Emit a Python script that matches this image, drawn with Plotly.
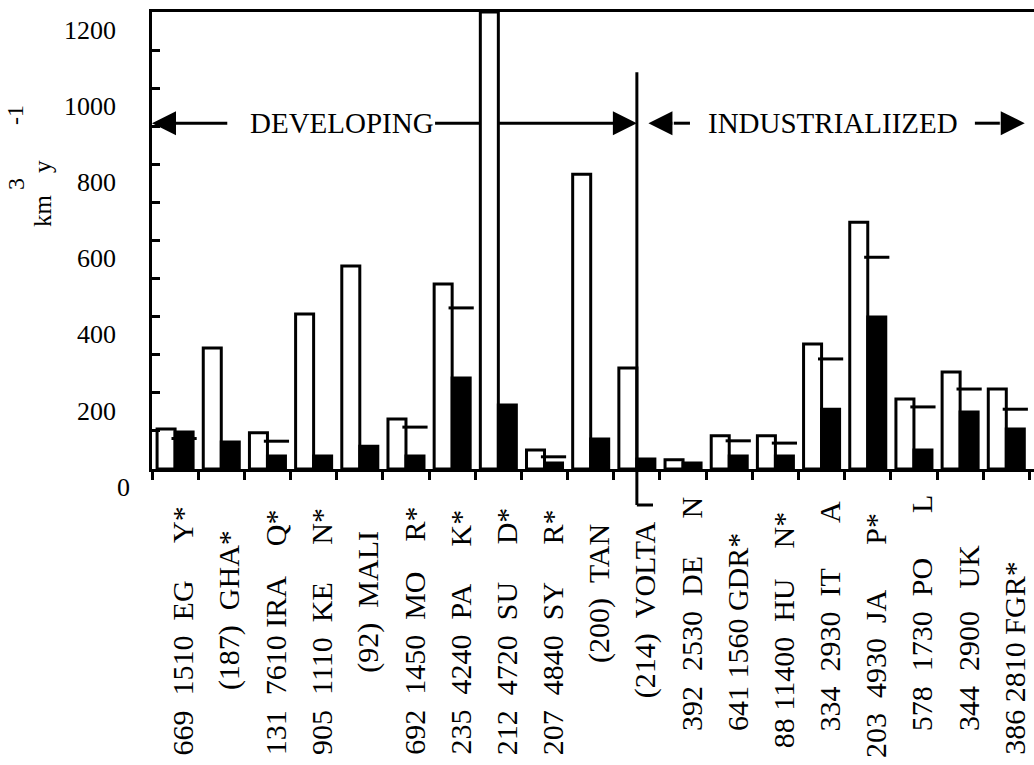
import plotly.graph_objects as go

# ---------------- data ----------------
countries = ["EGY", "GHA", "IRAQ", "KEN", "MALI", "MOR", "PAK", "SUD", "SYR", "TAN",
             "VOLTA", "DEN", "GDR", "HUN", "ITA", "JAP", "POL", "UK", "FGR"]
cat_labels = [
    "669  1510  EG     Y*",
    "(187)  GHA*",
    "131  7610 IRA    Q*",
    "905  1110  KE     N*",
    "(92)  MALI",
    "692  1450  MO    R*",
    "235  4240  PA     K*",
    "212  4720  SU     D*",
    "207  4840  SY     R*",
    "(200)  TAN",
    "(214)  VOLTA",
    "392  2530  DE     N",
    "641 1560 GDR*",
    "88 11400  HU    N*",
    "334  2930  IT      A",
    "203  4930  JA      P*",
    "578  1730  PO      L",
    "344  2900   UK",
    "386 2810 FGR*",
]
white_vals = [105, 318, 95, 407, 533, 131, 486, 1200, 50, 774, 265, 24, 87, 87, 328, 648, 184, 255, 210]
black_vals = [97, 71, 34, 34, 60, 34, 239, 168, 16, 79, 26, 16, 34, 34, 157, 399, 50, 150, 105]
dash_vals = [80, None, 73, None, None, 110, 423, None, 32, None, None, None, 74, 68, 289, 556, 163, 210, 157]
y_tick_vals = [0, 200, 400, 600, 800, 1000, 1200]
group_names = ["DEVELOPING", "INDUSTRIALIIZED"]
divider_index = countries.index("VOLTA")

# ---------------- style ----------------
FONT = "Liberation Serif, Times New Roman, serif"
W, H = 1034, 765
L, R, T, B = 152, 0, 12, 296
PW, PH = W - L - R, H - T - B
label_bottom_px = [757, 692, 757, 757, 675, 757, 757, 757, 757, 665, 700,
                   733, 733, 750, 733, 760, 733, 733, 757]
arrow_level = 908


def px_x(px):
    return (px - L) / PW


def px_y(py):
    return (T + PH - py) / PH


nb = lambda s: s.replace(" ", "\u00a0")
idx = list(range(len(countries)))
bargap = 0.22
half = (1 - bargap) / 2  # width of one bar in category units

fig = go.Figure()
fig.add_bar(x=idx, y=white_vals, name="white",
            marker=dict(color="white", line=dict(color="black", width=3)))
fig.add_bar(x=idx, y=black_vals, name="black",
            marker=dict(color="black", line=dict(color="black", width=3)))

dx = [i + half / 2 for i, v in zip(idx, dash_vals) if v is not None]
dy = [v for v in dash_vals if v is not None]
fig.add_scatter(x=dx, y=dy, mode="markers", cliponaxis=False,
                marker=dict(symbol="line-ew", size=18, color="black",
                            line=dict(color="black", width=3)))

ann = []
# y tick labels (drawn slightly below their ticks, as in the original)
for v in y_tick_vals:
    ann.append(dict(text=str(v), xref="paper", yref="paper",
                    x=px_x(132 if v == 0 else 118), y=(v - 48) / 1200,
                    xanchor="right", yanchor="middle", showarrow=False,
                    font=dict(family=FONT, size=26, color="black")))
# category labels
for i, (lab, bpx) in enumerate(zip(cat_labels, label_bottom_px)):
    ann.append(dict(text=nb(lab), xref="x", yref="paper", x=i + 0.17, y=px_y(bpx),
                    xanchor="center", yanchor="bottom", textangle=-90, showarrow=False,
                    font=dict(family=FONT, size=30, color="black")))
# y axis title pieces
for txt, cx, cy, fs in [("km", 42, 211, 25), ("y", 42, 167, 25), ("3", 16, 184, 24), ("-1", 15, 115, 24)]:
    ann.append(dict(text=txt, xref="paper", yref="paper", x=px_x(cx), y=px_y(cy),
                    xanchor="center", yanchor="middle", textangle=-90, showarrow=False,
                    font=dict(family=FONT, size=fs, color="black")))
# group labels
ann.append(dict(text=group_names[0], x=3.61, y=arrow_level, xref="x", yref="y", showarrow=False,
                font=dict(family=FONT, size=29, color="black")))
ann.append(dict(text=group_names[1], x=14.24, y=arrow_level, xref="x", yref="y", showarrow=False,
                font=dict(family=FONT, size=29, color="black")))
# arrow heads
for tip, tail in [(-0.5, 0.05), (divider_index, divider_index - 0.55),
                  (divider_index + 0.25, divider_index + 0.8), (18.4, 17.85)]:
    ann.append(dict(text="", x=tip, y=arrow_level, ax=tail, ay=arrow_level,
                    xref="x", yref="y", axref="x", ayref="y", showarrow=True,
                    arrowhead=2, arrowsize=1.6, arrowwidth=3, arrowcolor="black", standoff=0))

shapes = []
for x0, x1 in [(0.0, 1.13), (5.63, divider_index - 0.5), (divider_index + 0.8, 11.15), (17.32, 17.86)]:
    shapes.append(dict(type="line", xref="x", yref="y", x0=x0, x1=x1, y0=arrow_level, y1=arrow_level,
                       line=dict(color="black", width=3), layer="below"))
shapes.append(dict(type="line", xref="x", yref="paper", x0=divider_index, x1=divider_index,
                   y0=px_y(505), y1=1042 / 1200, line=dict(color="black", width=3)))
shapes.append(dict(type="line", xref="x", yref="paper", x0=divider_index, x1=divider_index + 0.35,
                   y0=px_y(505), y1=px_y(505), line=dict(color="black", width=3)))

fig.update_layout(
    width=W, height=H, margin=dict(l=L, r=R, t=T, b=B, pad=0),
    paper_bgcolor="white", plot_bgcolor="white",
    barmode="group", bargap=bargap, bargroupgap=0, showlegend=False,
    annotations=ann, shapes=shapes,
    font=dict(family=FONT, color="black"),
)
fig.update_xaxes(range=[-0.5, 18.6], showgrid=False, zeroline=False,
                 showline=True, linecolor="black", linewidth=3, mirror=True,
                 ticks="outside", tickvals=[k - 0.5 for k in range(len(countries) + 1)],
                 ticklen=8, tickwidth=2.5, tickcolor="black", showticklabels=False)
fig.update_yaxes(range=[0, 1200], showgrid=False, zeroline=False,
                 showline=True, linecolor="black", linewidth=3,
                 ticks="inside", tickvals=list(range(0, 1201, 100)),
                 ticklen=8, tickwidth=2.5, tickcolor="black", showticklabels=False)

fig.write_html("out.html")
